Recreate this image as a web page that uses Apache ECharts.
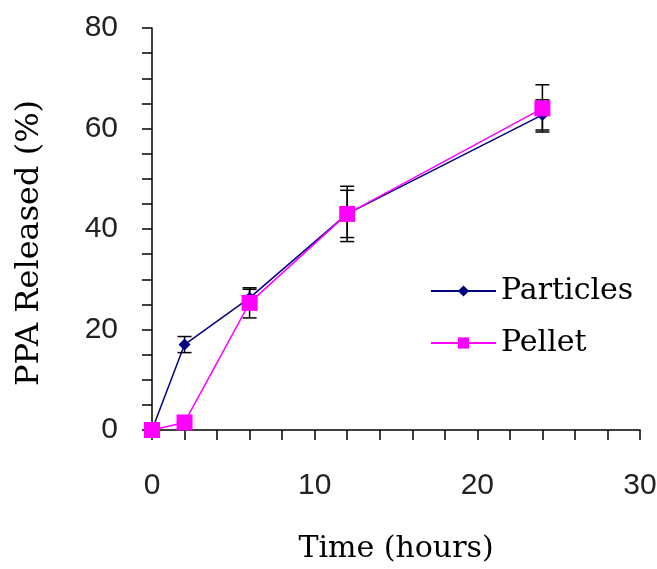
<!DOCTYPE html>
<html lang="en">
<head>
<meta charset="UTF-8">
<title>PPA release</title>
<script src="https://cdn.jsdelivr.net/npm/echarts@6/dist/echarts.min.js"></script>
</head>
<body style="margin:0;background:#fff">
<div id="main" style="width:657px;height:569px;"></div>
<script>
var hours = [0, 2, 6, 12, 24];
var particles = [0, 17, 26.3, 43, 62.7];
var particlesErr = [0, 1.6, 1.7, 4.7, 3];
var pellet = [0, 1.5, 25.3, 43, 64];
var pelletErr = [0, 0, 3, 5.5, 4.7];

var serif = 'DejaVu Serif';
var sans = 'Liberation Sans';

function pairs(ys) {
    return hours.map(function (h, i) { return [h, ys[i]]; });
}
function errData(ys, es) {
    return hours.map(function (h, i) { return [h, ys[i] - es[i], ys[i] + es[i]]; });
}
function drawErr(params, api) {
    if (api.value(1) === api.value(2)) return;
    var lo = api.coord([api.value(0), api.value(1)]);
    var hi = api.coord([api.value(0), api.value(2)]);
    var w = 7;
    var st = { stroke: '#000', lineWidth: 1.5 };
    return {
        type: 'group',
        children: [
            { type: 'line', shape: { x1: lo[0], y1: lo[1], x2: hi[0], y2: hi[1] }, style: st },
            { type: 'line', shape: { x1: lo[0] - w, y1: lo[1], x2: lo[0] + w, y2: lo[1] }, style: st },
            { type: 'line', shape: { x1: hi[0] - w, y1: hi[1], x2: hi[0] + w, y2: hi[1] }, style: st }
        ]
    };
}

var chart = echarts.init(document.getElementById('main'));
chart.setOption({
    animation: false,
    backgroundColor: '#fff',
    grid: { left: 152, right: 17, top: 28, bottom: 139, outerBoundsMode: 'none' },
    legend: {
        left: 425, top: 271, orient: 'vertical',
        itemWidth: 65, itemHeight: 14, itemGap: 22,
        textStyle: { fontFamily: serif, fontSize: 30, color: '#000' },
        data: ['Particles', 'Pellet']
    },
    xAxis: {
        type: 'value', min: 0, max: 30, interval: 2,
        name: 'Time (hours)', nameLocation: 'middle', nameGap: 104,
        nameTextStyle: { fontFamily: serif, fontSize: 30, color: '#000' },
        axisLine: { lineStyle: { color: '#000', width: 1.5 } },
        axisTick: { length: 10, lineStyle: { color: '#000', width: 1.5 } },
        axisLabel: {
            margin: 41, fontFamily: sans, fontSize: 30, color: '#222',
            formatter: function (v) { return v % 10 === 0 ? v : ''; }
        },
        splitLine: { show: false }
    },
    yAxis: {
        type: 'value', min: 0, max: 80, interval: 5,
        name: 'PPA Released (%)', nameLocation: 'middle', nameGap: 106,
        nameTextStyle: { fontFamily: serif, fontSize: 32, color: '#000', padding: [0, 28, 0, 0] },
        axisLine: { show: true, lineStyle: { color: '#000', width: 1.5 } },
        axisTick: { show: true, length: 10, lineStyle: { color: '#000', width: 1.5 } },
        axisLabel: {
            margin: 34, fontFamily: sans, fontSize: 30, color: '#222',
            formatter: function (v) { return v % 20 === 0 ? v : ''; }
        },
        splitLine: { show: false }
    },
    series: [
        {
            type: 'custom', renderItem: drawErr, data: errData(particles, particlesErr),
            encode: { x: 0, y: [1, 2] }, z: 1, silent: true
        },
        {
            type: 'custom', renderItem: drawErr, data: errData(pellet, pelletErr),
            encode: { x: 0, y: [1, 2] }, z: 1, silent: true
        },
        {
            name: 'Particles', type: 'line', data: pairs(particles),
            symbol: 'diamond', symbolSize: 12,
            lineStyle: { color: '#000080', width: 1.5 },
            itemStyle: { color: '#000080' }, z: 3
        },
        {
            name: 'Pellet', type: 'line', data: pairs(pellet),
            symbol: 'rect', symbolSize: 16,
            lineStyle: { color: '#ff00ff', width: 1.5 },
            itemStyle: { color: '#ff00ff' }, z: 4
        }
    ]
});
</script>
</body>
</html>
